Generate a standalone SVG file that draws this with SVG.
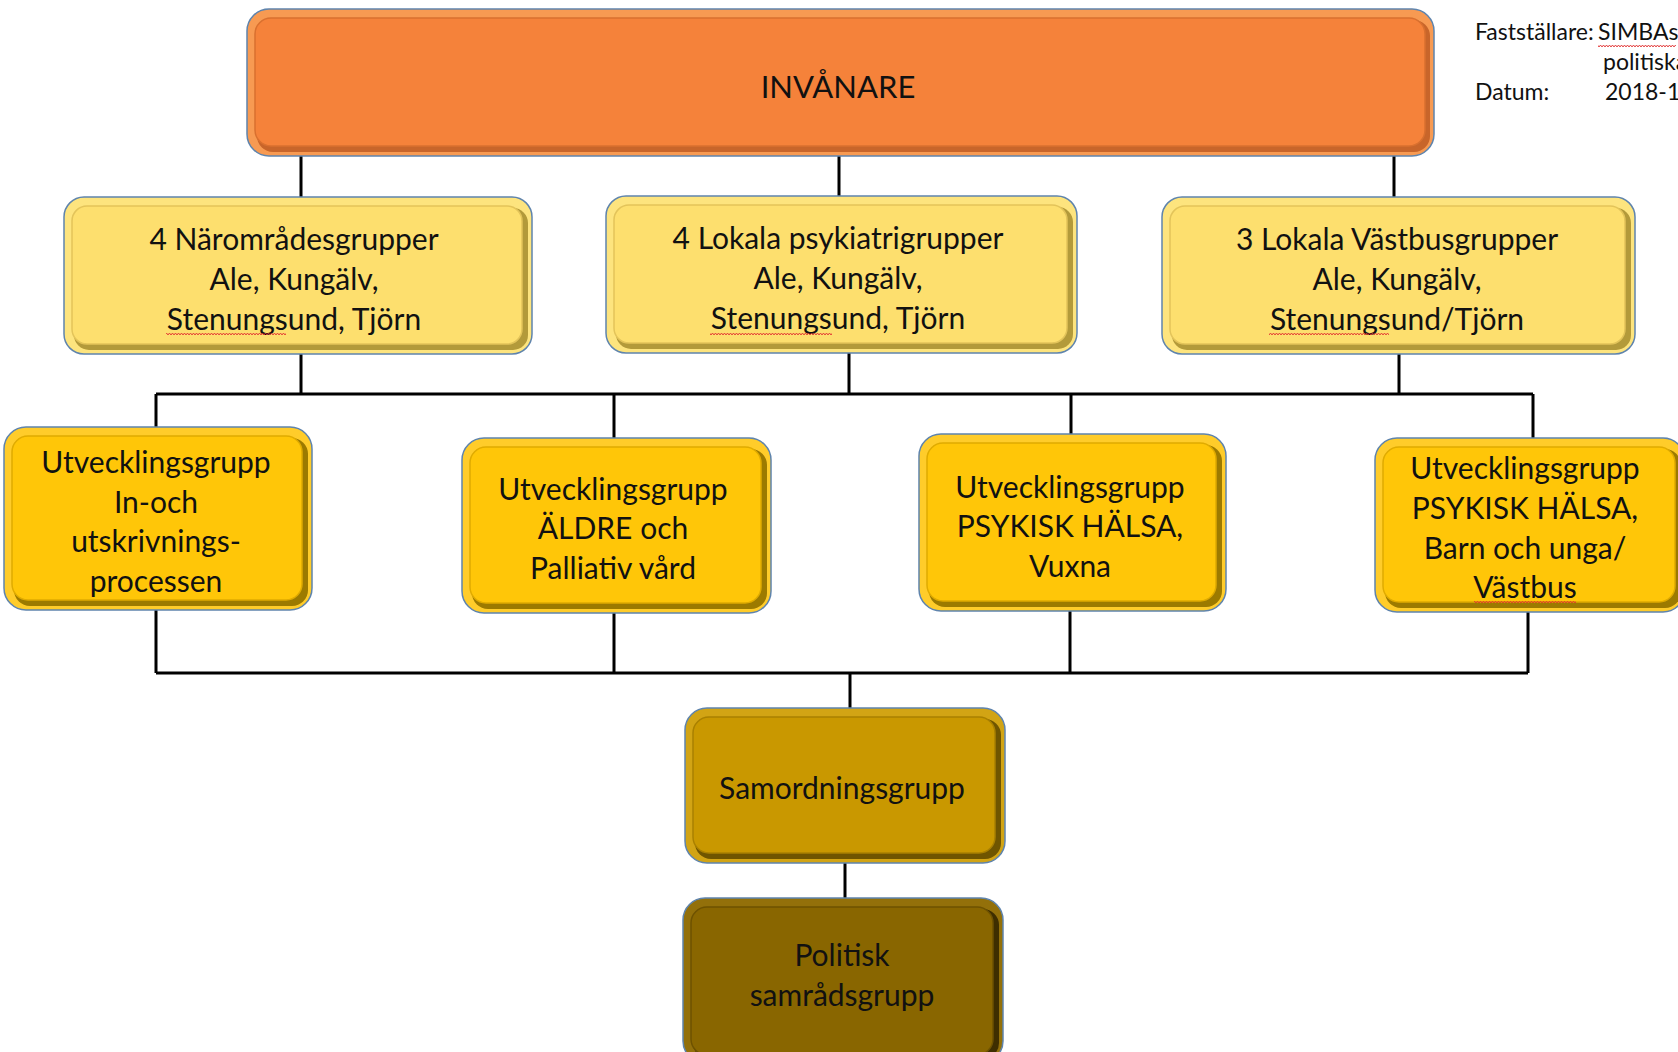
<svg xmlns="http://www.w3.org/2000/svg" width="1678" height="1052" viewBox="0 0 1678 1052">
<defs>
<style>
.t{font-family:Lato,"Open Sans","Liberation Sans",sans-serif;font-size:30px;fill:#111;text-anchor:middle}
.n{font-family:Lato,"Open Sans","Liberation Sans",sans-serif;font-size:23px;fill:#111}
.outer{stroke:#5f84ad;stroke-width:1.5}
.conn{stroke:#000;stroke-width:3;fill:none}
</style>
<pattern id="sq" width="6" height="4" patternUnits="userSpaceOnUse">
<path d="M0 3 L1.5 1 L3 3 L4.5 1 L6 3" stroke="#e03030" stroke-width="0.9" fill="none"/>
</pattern>
</defs>
<rect width="1678" height="1052" fill="#fff"/>

<g id="connectors" class="conn">
<path d="M301 156V197M839 156V196M1394 156V197"/>
<path d="M301 354V394M849 353V394M1399 354V394"/>
<path d="M156 394H1533"/>
<path d="M156 394V427M614 394V438M1071 394V434M1533 394V438"/>
<path d="M156 610V673M614 613V673M1070 611V673M1528 612V673"/>
<path d="M156 673H1528"/>
<path d="M850 673V708"/>
<path d="M845 863V898"/>
</g>

<g id="invanare">
<rect class="outer" x="247" y="9" width="1187" height="147" rx="22" fill="#f79a52"/>
<rect x="257" y="20" width="1173" height="132" rx="16" fill="#c8652a"/>
<rect x="255" y="18" width="1170" height="128" rx="16" fill="#f5823a" stroke="#d9702f" stroke-width="1.5"/>
<text class="t" x="838" y="98" style="font-size:31px">INVÅNARE</text>
</g>

<g id="naromrade">
<rect class="outer" x="64" y="197" width="468" height="157" rx="20" fill="#fde47e"/>
<rect x="74" y="208" width="454" height="142" rx="15" fill="#b39a3a"/>
<rect x="72" y="206" width="450" height="138" rx="15" fill="#fddf6e" stroke="#e3c45a" stroke-width="1.5"/>
<text class="t" x="294" y="250">4 Närområdesgrupper</text>
<text class="t" x="294" y="290">Ale, Kungälv,</text>
<text class="t" x="294" y="330">Stenungsund, Tjörn</text>
<rect x="166" y="333" width="120" height="4" fill="url(#sq)"/>
</g>

<g id="psykiatri">
<rect class="outer" x="606" y="196" width="471" height="157" rx="20" fill="#fde47e"/>
<rect x="616" y="207" width="457" height="142" rx="15" fill="#b39a3a"/>
<rect x="614" y="205" width="453" height="138" rx="15" fill="#fddf6e" stroke="#e3c45a" stroke-width="1.5"/>
<text class="t" x="838" y="249">4 Lokala psykiatrigrupper</text>
<text class="t" x="838" y="289">Ale, Kungälv,</text>
<text class="t" x="838" y="329">Stenungsund, Tjörn</text>
<rect x="710" y="332" width="122" height="4" fill="url(#sq)"/>
</g>

<g id="vastbus">
<rect class="outer" x="1162" y="197" width="473" height="157" rx="20" fill="#fde47e"/>
<rect x="1172" y="208" width="459" height="142" rx="15" fill="#b39a3a"/>
<rect x="1170" y="206" width="455" height="138" rx="15" fill="#fddf6e" stroke="#e3c45a" stroke-width="1.5"/>
<text class="t" x="1397" y="250">3 Lokala Västbusgrupper</text>
<text class="t" x="1397" y="290">Ale, Kungälv,</text>
<text class="t" x="1397" y="330">Stenungsund/Tjörn</text>
<rect x="1269" y="333" width="120" height="4" fill="url(#sq)"/>
</g>

<g id="ug-inut">
<rect class="outer" x="4" y="427" width="308" height="183" rx="22" fill="#ffcc2a"/>
<rect x="14" y="438" width="294" height="168" rx="16" fill="#9c7a00"/>
<rect x="12" y="436" width="290" height="164" rx="16" fill="#ffc608" stroke="#e0ab00" stroke-width="1.5"/>
<text class="t" x="156" y="473">Utvecklingsgrupp</text>
<text class="t" x="156" y="513">In-och</text>
<text class="t" x="156" y="552">utskrivnings-</text>
<text class="t" x="156" y="592">processen</text>
</g>

<g id="ug-aldre">
<rect class="outer" x="462" y="438" width="309" height="175" rx="22" fill="#ffcc2a"/>
<rect x="472" y="449" width="295" height="160" rx="16" fill="#9c7a00"/>
<rect x="470" y="447" width="291" height="156" rx="16" fill="#ffc608" stroke="#e0ab00" stroke-width="1.5"/>
<text class="t" x="613" y="500">Utvecklingsgrupp</text>
<text class="t" x="613" y="539">ÄLDRE och</text>
<text class="t" x="613" y="579">Palliativ vård</text>
</g>

<g id="ug-psykvuxna">
<rect class="outer" x="919" y="434" width="307" height="177" rx="22" fill="#ffcc2a"/>
<rect x="929" y="445" width="293" height="162" rx="16" fill="#9c7a00"/>
<rect x="927" y="443" width="289" height="158" rx="16" fill="#ffc608" stroke="#e0ab00" stroke-width="1.5"/>
<text class="t" x="1070" y="498">Utvecklingsgrupp</text>
<text class="t" x="1070" y="537">PSYKISK HÄLSA,</text>
<text class="t" x="1070" y="577">Vuxna</text>
</g>

<g id="ug-psykbarn">
<rect class="outer" x="1375" y="438" width="310" height="174" rx="22" fill="#ffcc2a"/>
<rect x="1385" y="449" width="296" height="159" rx="16" fill="#9c7a00"/>
<rect x="1383" y="447" width="292" height="155" rx="16" fill="#ffc608" stroke="#e0ab00" stroke-width="1.5"/>
<text class="t" x="1525" y="479">Utvecklingsgrupp</text>
<text class="t" x="1525" y="519">PSYKISK HÄLSA,</text>
<text class="t" x="1525" y="559">Barn och unga/</text>
<text class="t" x="1525" y="598">Västbus</text>
<rect x="1474" y="601" width="102" height="4" fill="url(#sq)"/>
</g>

<g id="samordning">
<rect class="outer" x="685" y="708" width="320" height="155" rx="22" fill="#d2a414"/>
<rect x="695" y="719" width="306" height="140" rx="16" fill="#6f5500"/>
<rect x="693" y="717" width="302" height="136" rx="16" fill="#c99800" stroke="#a98000" stroke-width="1.5"/>
<text class="t" x="842" y="799">Samordningsgrupp</text>
</g>

<g id="politisk">
<rect class="outer" x="683" y="898" width="320" height="165" rx="22" fill="#93700a"/>
<rect x="693" y="909" width="306" height="150" rx="16" fill="#3e2e00"/>
<rect x="691" y="907" width="302" height="148" rx="16" fill="#896600" stroke="#6e5200" stroke-width="1.5"/>
<text class="t" x="842" y="966">Politisk</text>
<text class="t" x="842" y="1006">samrådsgrupp</text>
</g>

<g id="note">
<text class="n" x="1475" y="40">Fastställare:</text>
<text class="n" x="1598" y="40">SIMBAs</text>
<rect x="1598" y="44" width="78" height="4" fill="url(#sq)"/>
<text class="n" x="1603" y="70">politiska</text>
<text class="n" x="1475" y="100">Datum:</text>
<text class="n" x="1605" y="100">2018-11</text>
</g>
</svg>
